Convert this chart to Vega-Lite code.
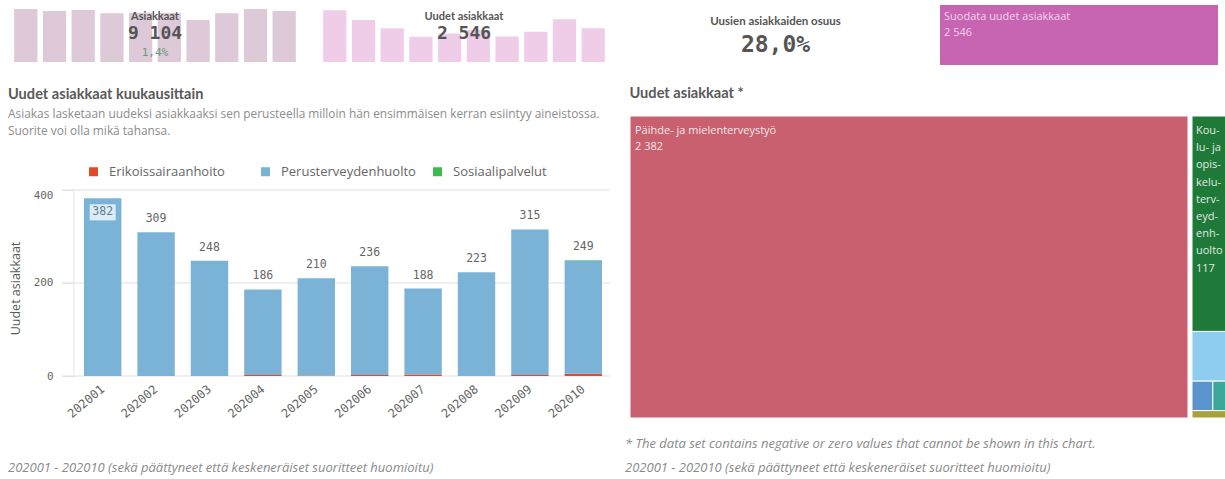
{
  "$schema": "https://vega.github.io/schema/vega-lite/v6.json",
  "background": "white",
  "padding": {"left": 8, "top": 5, "right": 0, "bottom": 0},
  "config": {
    "view": {"stroke": null},
    "font": "Open Sans",
    "locale": {"number": {"decimal": ",", "thousands": " ", "grouping": [3], "currency": ["", " €"]}}
  },
  "spacing": 20,
  "resolve": {"scale": {"color": "independent"}, "legend": {"color": "independent"}},
  "datasets": {
    "kuukausittain": [
      {"kuukausi": "202001", "palvelu": "Erikoissairaanhoito", "uudet": 0},
      {"kuukausi": "202001", "palvelu": "Perusterveydenhuolto", "uudet": 382},
      {"kuukausi": "202001", "palvelu": "Sosiaalipalvelut", "uudet": 0},
      {"kuukausi": "202002", "palvelu": "Erikoissairaanhoito", "uudet": 0},
      {"kuukausi": "202002", "palvelu": "Perusterveydenhuolto", "uudet": 309},
      {"kuukausi": "202002", "palvelu": "Sosiaalipalvelut", "uudet": 0},
      {"kuukausi": "202003", "palvelu": "Erikoissairaanhoito", "uudet": 0},
      {"kuukausi": "202003", "palvelu": "Perusterveydenhuolto", "uudet": 248},
      {"kuukausi": "202003", "palvelu": "Sosiaalipalvelut", "uudet": 0},
      {"kuukausi": "202004", "palvelu": "Erikoissairaanhoito", "uudet": 2},
      {"kuukausi": "202004", "palvelu": "Perusterveydenhuolto", "uudet": 184},
      {"kuukausi": "202004", "palvelu": "Sosiaalipalvelut", "uudet": 0},
      {"kuukausi": "202005", "palvelu": "Erikoissairaanhoito", "uudet": 1},
      {"kuukausi": "202005", "palvelu": "Perusterveydenhuolto", "uudet": 209},
      {"kuukausi": "202005", "palvelu": "Sosiaalipalvelut", "uudet": 0},
      {"kuukausi": "202006", "palvelu": "Erikoissairaanhoito", "uudet": 2},
      {"kuukausi": "202006", "palvelu": "Perusterveydenhuolto", "uudet": 234},
      {"kuukausi": "202006", "palvelu": "Sosiaalipalvelut", "uudet": 0},
      {"kuukausi": "202007", "palvelu": "Erikoissairaanhoito", "uudet": 3},
      {"kuukausi": "202007", "palvelu": "Perusterveydenhuolto", "uudet": 185},
      {"kuukausi": "202007", "palvelu": "Sosiaalipalvelut", "uudet": 0},
      {"kuukausi": "202008", "palvelu": "Erikoissairaanhoito", "uudet": 0},
      {"kuukausi": "202008", "palvelu": "Perusterveydenhuolto", "uudet": 223},
      {"kuukausi": "202008", "palvelu": "Sosiaalipalvelut", "uudet": 0},
      {"kuukausi": "202009", "palvelu": "Erikoissairaanhoito", "uudet": 2},
      {"kuukausi": "202009", "palvelu": "Perusterveydenhuolto", "uudet": 313},
      {"kuukausi": "202009", "palvelu": "Sosiaalipalvelut", "uudet": 0},
      {"kuukausi": "202010", "palvelu": "Erikoissairaanhoito", "uudet": 5},
      {"kuukausi": "202010", "palvelu": "Perusterveydenhuolto", "uudet": 243},
      {"kuukausi": "202010", "palvelu": "Sosiaalipalvelut", "uudet": 1}
    ],
    "asiakkaat": [
      {"kuukausi": "202001", "asiakkaat": 1023},
      {"kuukausi": "202002", "asiakkaat": 984},
      {"kuukausi": "202003", "asiakkaat": 1004},
      {"kuukausi": "202004", "asiakkaat": 940},
      {"kuukausi": "202005", "asiakkaat": 951},
      {"kuukausi": "202006", "asiakkaat": 948},
      {"kuukausi": "202007", "asiakkaat": 811},
      {"kuukausi": "202008", "asiakkaat": 940},
      {"kuukausi": "202009", "asiakkaat": 1023},
      {"kuukausi": "202010", "asiakkaat": 984}
    ],
    "ruudukko": [
      {"viiva": 0},
      {"viiva": 200},
      {"viiva": 400}
    ],
    "treemap": [
      {"palvelu": "Päihde- ja mielenterveystyö", "teksti": "Päihde- ja mielenterveystyö", "uudet": 2382, "sarake": 1, "rivi": 1},
      {"palvelu": "Koulu- ja opiskeluterveydenhuolto", "teksti": "Kou-\nlu- ja\nopis-\nkelu-\nterv-\neyd-\nenh-\nuolto", "uudet": 117, "sarake": 2, "rivi": 1},
      {"palvelu": "Neuvolatyö", "teksti": "", "uudet": 27, "sarake": 2, "rivi": 2},
      {"palvelu": "Avosairaanhoito", "teksti": "", "uudet": 9, "sarake": 2, "rivi": 3},
      {"palvelu": "Kuntoutus", "teksti": "", "uudet": 7, "sarake": 2, "rivi": 3},
      {"palvelu": "Muut palvelut", "teksti": "", "uudet": 4, "sarake": 2, "rivi": 4}
    ],
    "tunnusluvut": [
      {"asiakkaat": 9104, "muutos": 0.014, "uudet": 2546, "osuus": 0.27966}
    ]
  },
  "vconcat": [
    {
      "spacing": 15,
      "hconcat": [
        {
          "width": 294, "height": 57,
          "layer": [
            {
              "data": {"name": "asiakkaat"},
              "mark": {"type": "bar", "color": "#ddc9d8"},
              "encoding": {
                "x": {"field": "kuukausi", "type": "ordinal", "axis": null, "scale": {"paddingInner": 0.19, "paddingOuter": 0.215}},
                "y": {"field": "asiakkaat", "type": "quantitative", "axis": null, "scale": {"domain": [0, 1100], "nice": false}}
              }
            },
            {
              "data": {"values": [{"t": "Asiakkaat"}]},
              "mark": {"type": "text", "dy": -17, "font": "Lato", "fontSize": 11, "fontWeight": "bold", "color": "#555555"},
              "encoding": {"text": {"field": "t"}}
            },
            {
              "data": {"name": "tunnusluvut"},
              "mark": {"type": "text", "dy": 0, "font": "DejaVu Sans Mono", "fontSize": 18, "fontWeight": "bold", "color": "#555555"},
              "encoding": {"text": {"field": "asiakkaat", "type": "quantitative", "format": ",d"}}
            },
            {
              "data": {"name": "tunnusluvut"},
              "mark": {"type": "text", "dy": 19, "font": "DejaVu Sans Mono", "fontSize": 11, "color": "#6b9b78"},
              "encoding": {"text": {"field": "muutos", "type": "quantitative", "format": ".1%"}}
            }
          ]
        },
        {
          "width": 294, "height": 57,
          "layer": [
            {
              "data": {"name": "kuukausittain"},
              "mark": {"type": "bar", "color": "#efcce8"},
              "encoding": {
                "x": {"field": "kuukausi", "type": "ordinal", "axis": null, "scale": {"paddingInner": 0.19, "paddingOuter": 0.215}},
                "y": {"field": "uudet", "type": "quantitative", "aggregate": "sum", "axis": null, "scale": {"domain": [0, 420], "nice": false}}
              }
            },
            {
              "data": {"values": [{"t": "Uudet asiakkaat"}]},
              "mark": {"type": "text", "dy": -17, "font": "Lato", "fontSize": 11, "fontWeight": "bold", "color": "#555555"},
              "encoding": {"text": {"field": "t"}}
            },
            {
              "data": {"name": "tunnusluvut"},
              "mark": {"type": "text", "dy": 0, "font": "DejaVu Sans Mono", "fontSize": 18, "fontWeight": "bold", "color": "#555555"},
              "encoding": {"text": {"field": "uudet", "type": "quantitative", "format": ",d"}}
            }
          ]
        },
        {
          "width": 299, "height": 60,
          "layer": [
            {
              "data": {"values": [{"t": "Uusien asiakkaiden osuus"}]},
              "mark": {"type": "text", "dy": -13, "font": "Lato", "fontSize": 11.5, "fontWeight": "bold", "color": "#555555"},
              "encoding": {"text": {"field": "t"}}
            },
            {
              "data": {"name": "tunnusluvut"},
              "mark": {"type": "text", "dy": 10, "font": "DejaVu Sans Mono", "fontSize": 23, "fontWeight": "bold", "color": "#555555"},
              "encoding": {"text": {"field": "osuus", "type": "quantitative", "format": ".1%"}}
            }
          ]
        },
        {
          "width": 278, "height": 60,
          "data": {"name": "tunnusluvut"},
          "layer": [
            {
              "mark": {"type": "rect", "color": "#c865b3"},
              "encoding": {
                "x": {"datum": 0, "type": "quantitative", "axis": null, "scale": {"domain": [0, 1], "nice": false}},
                "x2": {"datum": 1},
                "y": {"datum": 0, "type": "quantitative", "axis": null, "scale": {"domain": [0, 1], "nice": false}},
                "y2": {"datum": 1}
              }
            },
            {
              "mark": {"type": "text", "align": "left", "baseline": "middle", "dx": 4, "dy": 12, "fontSize": 11, "color": "#f4d2ec"},
              "encoding": {
                "x": {"datum": 0, "type": "quantitative"},
                "y": {"datum": 1, "type": "quantitative"},
                "text": {"value": "Suodata uudet asiakkaat"}
              }
            },
            {
              "mark": {"type": "text", "align": "left", "baseline": "middle", "dx": 4, "dy": 28, "fontSize": 11, "color": "#f4d2ec"},
              "encoding": {
                "x": {"datum": 0, "type": "quantitative"},
                "y": {"datum": 1, "type": "quantitative"},
                "text": {"field": "uudet", "type": "quantitative", "format": ",d"}
              }
            }
          ]
        }
      ]
    },
    {
      "spacing": 18,
      "resolve": {"scale": {"color": "independent"}, "legend": {"color": "independent"}},
      "vconcat": [
        {
          "spacing": 18,
          "resolve": {"scale": {"color": "independent"}, "legend": {"color": "independent"}},
          "hconcat": [
            {
              "width": 602, "height": 260,
              "title": {
                "text": "Uudet asiakkaat kuukausittain",
                "subtitle": ["Asiakas lasketaan uudeksi asiakkaaksi sen perusteella milloin hän ensimmäisen kerran esiintyy aineistossa.", "Suorite voi olla mikä tahansa."],
                "anchor": "start", "frame": "bounds",
                "font": "Lato", "fontSize": 14.6, "fontWeight": "bold", "color": "#595959",
                "subtitleFont": "Open Sans", "subtitleFontSize": 11.9, "subtitleColor": "#8c8c8c", "subtitlePadding": 8, "subtitleLineHeight": 17,
                "offset": -21
              },
              "data": {"name": "kuukausittain"},
              "layer": [
                {
                  "data": {"name": "ruudukko"},
                  "mark": {"type": "rule", "color": "#e0e0e0", "strokeWidth": 1},
                  "encoding": {
                    "y": {"field": "viiva", "type": "quantitative"},
                    "x": {"datum": "202001", "type": "ordinal", "bandPosition": -0.59},
                    "x2": {"datum": "202010", "bandPosition": 1.21}
                  }
                },
                {
                  "data": {"values": [{"alku": 0, "loppu": 400}]},
                  "mark": {"type": "rule", "color": "#e6e6e6", "strokeWidth": 1},
                  "encoding": {
                    "x": {"datum": "202001", "type": "ordinal", "bandPosition": -0.27},
                    "y": {"field": "alku", "type": "quantitative"},
                    "y2": {"field": "loppu"}
                  }
                },
                {
                  "mark": {"type": "bar"},
                  "encoding": {
                    "x": {
                      "field": "kuukausi", "type": "ordinal",
                      "scale": {"paddingInner": 0.3, "paddingOuter": 0.786, "align": 0.905},
                      "axis": {"title": null, "labelAngle": -40, "labelAlign": "right", "labelBaseline": "middle", "labelPadding": 11, "ticks": false, "domain": false, "labelFont": "DejaVu Sans Mono", "labelFontSize": 12, "labelColor": "#666666"}
                    },
                    "y": {
                      "field": "uudet", "type": "quantitative",
                      "scale": {"domain": [0, 559], "nice": false},
                      "axis": {
                        "title": "Uudet asiakkaat", "values": [0, 200, 400], "offset": -66,
                        "grid": false, "domain": false,
                        "ticks": true, "tickSize": 12, "tickColor": "#e0e0e0", "labelPadding": 9,
                        "labelFont": "DejaVu Sans Mono", "labelFontSize": 11, "labelColor": "#666666",
                        "labelBaseline": {"condition": {"test": "datum.value >= 400", "value": "top"}, "value": "middle"},
                        "titleFont": "Open Sans", "titleFontSize": 12.5, "titleFontWeight": "normal", "titleColor": "#595959", "titlePadding": 11, "titleY": 172
                      }
                    },
                    "color": {
                      "field": "palvelu", "type": "nominal",
                      "scale": {"domain": ["Erikoissairaanhoito", "Perusterveydenhuolto", "Sosiaalipalvelut"], "range": ["#e0492c", "#7ab3d6", "#3dbb4a"]},
                      "legend": {"title": null, "orient": "none", "legendX": 79, "legendY": 49, "direction": "horizontal", "gridAlign": "all", "symbolType": "square", "symbolSize": 81, "symbolStrokeWidth": 0, "labelFont": "Open Sans", "labelFontSize": 13, "labelColor": "#666666", "columnPadding": 15, "labelOffset": 9, "padding": 0}
                    },
                    "order": {"field": "palvelu", "sort": "ascending"}
                  }
                },
                {
                  "transform": [
                    {"aggregate": [{"op": "sum", "field": "uudet", "as": "yhteensa"}], "groupby": ["kuukausi"]},
                    {"filter": "datum.yhteensa < 370"}
                  ],
                  "mark": {"type": "text", "baseline": "middle", "dy": -13, "font": "DejaVu Sans Mono", "fontSize": 11.5, "color": "#666666"},
                  "encoding": {
                    "x": {"field": "kuukausi", "type": "ordinal"},
                    "y": {"field": "yhteensa", "type": "quantitative"},
                    "text": {"field": "yhteensa", "type": "quantitative"}
                  }
                },
                {
                  "transform": [
                    {"aggregate": [{"op": "sum", "field": "uudet", "as": "yhteensa"}], "groupby": ["kuukausi"]},
                    {"filter": "datum.yhteensa >= 370"}
                  ],
                  "mark": {"type": "point", "shape": "M-1,-0.62L1,-0.62L1,0.62L-1,0.62Z", "size": 676, "filled": true, "opacity": 1, "color": "#dcedf7", "yOffset": 14},
                  "encoding": {
                    "x": {"field": "kuukausi", "type": "ordinal"},
                    "y": {"field": "yhteensa", "type": "quantitative"}
                  }
                },
                {
                  "transform": [
                    {"aggregate": [{"op": "sum", "field": "uudet", "as": "yhteensa"}], "groupby": ["kuukausi"]},
                    {"filter": "datum.yhteensa >= 370"}
                  ],
                  "mark": {"type": "text", "baseline": "middle", "dy": 14, "font": "DejaVu Sans Mono", "fontSize": 11.5, "color": "#5f7d92"},
                  "encoding": {
                    "x": {"field": "kuukausi", "type": "ordinal"},
                    "y": {"field": "yhteensa", "type": "quantitative"},
                    "text": {"field": "yhteensa", "type": "quantitative"}
                  }
                }
              ]
            },
            {
              "title": {"text": "Uudet asiakkaat *", "anchor": "start", "frame": "bounds", "font": "Lato", "fontSize": 14.6, "fontWeight": "bold", "color": "#595959", "offset": 15},
              "spacing": 2,
              "hconcat": [
                {
                  "width": 558, "height": 302,
                  "data": {"name": "treemap"},
                  "transform": [
                    {"filter": "datum.sarake === 1"},
                    {"stack": "uudet", "groupby": [], "sort": [{"field": "rivi", "order": "ascending"}], "as": ["s0", "s1"]},
                    {"joinaggregate": [{"op": "min", "field": "s0", "as": "y0"}, {"op": "max", "field": "s1", "as": "y1"}], "groupby": ["rivi"]},
                    {"stack": "uudet", "groupby": ["rivi"], "sort": [{"field": "uudet", "order": "descending"}], "offset": "normalize", "as": ["x0", "x1"]}
                  ],
                  "layer": [
                    {
                      "mark": {"type": "rect", "stroke": "white", "strokeWidth": 1},
                      "encoding": {
                        "x": {"field": "x0", "type": "quantitative", "axis": null, "scale": {"nice": false, "zero": true}},
                        "x2": {"field": "x1"},
                        "y": {"field": "y0", "type": "quantitative", "axis": null, "scale": {"reverse": true, "nice": false, "zero": true}},
                        "y2": {"field": "y1"},
                        "color": {"field": "palvelu", "type": "nominal", "legend": null,
                          "scale": {"domain": ["Päihde- ja mielenterveystyö", "Koulu- ja opiskeluterveydenhuolto", "Neuvolatyö", "Avosairaanhoito", "Kuntoutus", "Muut palvelut"], "range": ["#c9606f", "#1f7a3a", "#8fcdee", "#5b93cf", "#3aa79a", "#a9a23c"]}}
                      }
                    },
                    {
                      "mark": {"type": "text", "align": "left", "baseline": "top", "dx": 5, "dy": 9, "fontSize": 11, "color": "#ffffff", "opacity": 0.85},
                      "encoding": {
                        "x": {"field": "x0", "type": "quantitative"},
                        "y": {"field": "y0", "type": "quantitative"},
                        "text": {"field": "teksti"}
                      }
                    },
                    {
                      "mark": {"type": "text", "align": "left", "baseline": "top", "dx": 5, "dy": 25, "fontSize": 11, "color": "#ffffff", "opacity": 0.85},
                      "encoding": {
                        "x": {"field": "x0", "type": "quantitative"},
                        "y": {"field": "y0", "type": "quantitative"},
                        "text": {"field": "uudet", "type": "quantitative", "format": ",d"}
                      }
                    }
                  ]
                },
                {
                  "width": 37, "height": 302,
                  "data": {"name": "treemap"},
                  "transform": [
                    {"filter": "datum.sarake === 2"},
                    {"stack": "uudet", "groupby": [], "sort": [{"field": "rivi", "order": "ascending"}], "as": ["s0", "s1"]},
                    {"joinaggregate": [{"op": "min", "field": "s0", "as": "y0"}, {"op": "max", "field": "s1", "as": "y1"}], "groupby": ["rivi"]},
                    {"stack": "uudet", "groupby": ["rivi"], "sort": [{"field": "uudet", "order": "descending"}], "offset": "normalize", "as": ["x0", "x1"]}
                  ],
                  "layer": [
                    {
                      "mark": {"type": "rect", "stroke": "white", "strokeWidth": 1},
                      "encoding": {
                        "x": {"field": "x0", "type": "quantitative", "axis": null, "scale": {"nice": false, "zero": true}},
                        "x2": {"field": "x1"},
                        "y": {"field": "y0", "type": "quantitative", "axis": null, "scale": {"reverse": true, "nice": false, "zero": true}},
                        "y2": {"field": "y1"},
                        "color": {"field": "palvelu", "type": "nominal", "legend": null,
                          "scale": {"domain": ["Päihde- ja mielenterveystyö", "Koulu- ja opiskeluterveydenhuolto", "Neuvolatyö", "Avosairaanhoito", "Kuntoutus", "Muut palvelut"], "range": ["#c9606f", "#1f7a3a", "#8fcdee", "#5b93cf", "#3aa79a", "#a9a23c"]}}
                      }
                    },
                    {
                      "transform": [{"filter": "datum.rivi === 1"}],
                      "mark": {"type": "text", "align": "left", "baseline": "top", "dx": 4, "dy": 9, "fontSize": 11, "color": "#ffffff", "opacity": 0.85, "lineBreak": "\n", "lineHeight": 17.2},
                      "encoding": {
                        "x": {"field": "x0", "type": "quantitative"},
                        "y": {"field": "y0", "type": "quantitative"},
                        "text": {"field": "teksti"}
                      }
                    },
                    {
                      "transform": [{"filter": "datum.rivi === 1"}],
                      "mark": {"type": "text", "align": "left", "baseline": "top", "dx": 4, "dy": 147, "fontSize": 11, "color": "#ffffff", "opacity": 0.85},
                      "encoding": {
                        "x": {"field": "x0", "type": "quantitative"},
                        "y": {"field": "y0", "type": "quantitative"},
                        "text": {"field": "uudet", "type": "quantitative", "format": ",d"}
                      }
                    }
                  ]
                }
              ]
            }
          ]
        },
        {
          "spacing": 15,
          "hconcat": [
            {
              "width": 602, "height": 24,
              "data": {"values": [{"rivi": 2, "teksti": "202001 - 202010 (sekä päättyneet että keskeneräiset suoritteet huomioitu)"}]},
              "mark": {"type": "text", "align": "left", "baseline": "middle", "fontSize": 13, "fontStyle": "italic", "color": "#8a8a8a"},
              "encoding": {
                "x": {"datum": 0, "type": "quantitative", "axis": null, "scale": {"domain": [0, 1], "nice": false}},
                "y": {"field": "rivi", "type": "ordinal", "axis": null, "scale": {"domain": [1, 2], "padding": 0}},
                "text": {"field": "teksti"}
              }
            },
            {
              "width": 600, "height": 24,
              "data": {"values": [
                {"rivi": 1, "teksti": "* The data set contains negative or zero values that cannot be shown in this chart."},
                {"rivi": 2, "teksti": "202001 - 202010 (sekä päättyneet että keskeneräiset suoritteet huomioitu)"}
              ]},
              "mark": {"type": "text", "align": "left", "baseline": "middle", "fontSize": 13, "fontStyle": "italic", "color": "#8a8a8a"},
              "encoding": {
                "x": {"datum": 0, "type": "quantitative", "axis": null, "scale": {"domain": [0, 1], "nice": false}},
                "y": {"field": "rivi", "type": "ordinal", "axis": null, "scale": {"domain": [1, 2], "padding": 0}},
                "text": {"field": "teksti"}
              }
            }
          ]
        }
      ]
    }
  ]
}
